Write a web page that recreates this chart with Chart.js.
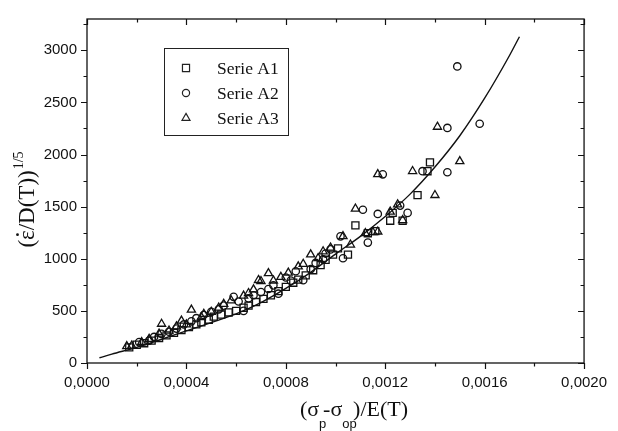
<!DOCTYPE html>
<html>
<head>
<meta charset="utf-8">
<script src="https://cdn.jsdelivr.net/npm/chart.js@4/dist/chart.umd.min.js"></script>
<style>
  html, body { margin: 0; padding: 0; background: #fff; }
  canvas { display: block; }
</style>
</head>
<body>
<canvas id="chart" width="618" height="431"></canvas>
<script>
// tick positions
const xTicks = [0, 0.0004, 0.0008, 0.0012, 0.0016, 0.0020];
const xMinorTicks = [0.0002, 0.0006, 0.0010, 0.0014, 0.0018];
const yTicks = [0, 500, 1000, 1500, 2000, 2500, 3000];
const yMinorTicks = [250, 750, 1250, 1750, 2250, 2750, 3250];

// measured points, [x, y]
const serieA1 = [
  [0.00017, 150], [0.00020, 175], [0.00023, 190], [0.00026, 215], [0.00029, 240],
  [0.00032, 265], [0.00035, 290], [0.00038, 315], [0.00041, 345], [0.00044, 370],
  [0.00046, 390], [0.00049, 415], [0.00051, 445], [0.00054, 465], [0.00057, 485],
  [0.00060, 500], [0.00063, 530], [0.00065, 550], [0.00068, 585], [0.00071, 615],
  [0.00074, 650], [0.00077, 690], [0.00080, 730], [0.00083, 770], [0.00085, 800],
  [0.00088, 840], [0.00091, 890], [0.00094, 940], [0.00096, 990], [0.00099, 1040],
  [0.00101, 1100], [0.00105, 1040], [0.00108, 1320], [0.00113, 1245], [0.00116, 1265],
  [0.00122, 1365], [0.00123, 1440], [0.00127, 1365], [0.00133, 1610], [0.00137, 1840],
  [0.00138, 1925]
];
const serieA2 = [
  [0.00021, 200], [0.00025, 215], [0.00027, 250], [0.00030, 280], [0.00033, 300],
  [0.00036, 330], [0.00039, 370], [0.00042, 400], [0.00044, 430], [0.00047, 460],
  [0.00050, 490], [0.00053, 515], [0.00055, 550], [0.00059, 635], [0.00061, 590],
  [0.00063, 500], [0.00065, 620], [0.00067, 650], [0.00070, 680], [0.00073, 710],
  [0.00075, 745], [0.00077, 665], [0.00080, 820], [0.00082, 790], [0.00084, 880],
  [0.00087, 795], [0.00090, 900], [0.00092, 960], [0.00095, 995], [0.00096, 1050],
  [0.00098, 1090], [0.00102, 1215], [0.00103, 1005], [0.00111, 1470], [0.00113, 1155],
  [0.00117, 1430], [0.00119, 1810], [0.00126, 1510], [0.00129, 1440], [0.00135, 1840],
  [0.00145, 1830], [0.00145, 2255], [0.00149, 2845], [0.00158, 2295]
];
const serieA3 = [
  [0.00016, 160], [0.00018, 165], [0.00022, 200], [0.00025, 230], [0.00029, 280],
  [0.00030, 375], [0.00033, 310], [0.00036, 350], [0.00038, 405], [0.00040, 370],
  [0.00042, 510], [0.00046, 440], [0.00047, 470], [0.00050, 490], [0.00053, 530],
  [0.00055, 565], [0.00058, 600], [0.00063, 645], [0.00065, 670], [0.00067, 705],
  [0.00069, 795], [0.00070, 785], [0.00073, 860], [0.00075, 790], [0.00078, 825],
  [0.00081, 865], [0.00085, 925], [0.00087, 950], [0.00090, 1040], [0.00093, 1005],
  [0.00095, 1070], [0.00098, 1105], [0.00103, 1215], [0.00106, 1135], [0.00108, 1480],
  [0.00112, 1245], [0.00115, 1255], [0.00117, 1260], [0.00117, 1810], [0.00122, 1450],
  [0.00125, 1520], [0.00127, 1370], [0.00131, 1840], [0.00140, 1610], [0.00141, 2265],
  [0.00150, 1935]
];

// fitted curve
const curveX = [0.00005, 0.0001, 0.0002, 0.0003, 0.0004, 0.0005, 0.0006, 0.0007, 0.0008, 0.0009,
  0.0010, 0.0011, 0.0012, 0.0013, 0.0014, 0.0015, 0.0016, 0.0017, 0.00174];
const curveY = [50, 85, 150, 228, 308, 388, 472, 580, 715, 870,
  1045, 1215, 1405, 1620, 1880, 2180, 2540, 2950, 3130];

const legendItems = [
  { label: 'Serie A1', style: 'rect', radius: 5 },
  { label: 'Serie A2', style: 'circle', radius: 3.6 },
  { label: 'Serie A3', style: 'triangle', radius: 4.6 }
];

const toPoints = (arr) => arr.map(([x, y]) => ({ x, y }));
const fmtComma = (v) => v.toFixed(4).replace('.', ',');
const serif = '"Liberation Serif", "Times New Roman", serif';
const sans = '"Liberation Sans", Arial, sans-serif';

function drawSymbol(ctx, style, r, x, y) {
  ctx.beginPath();
  if (style === 'rect') {
    const s = r * Math.SQRT1_2;
    ctx.rect(x - s, y - s, 2 * s, 2 * s);
  } else if (style === 'circle') {
    ctx.arc(x, y, r, 0, Math.PI * 2);
  } else {
    const w = r * Math.sqrt(3) / 2;
    ctx.moveTo(x, y - r);
    ctx.lineTo(x + w, y + r / 2);
    ctx.lineTo(x - w, y + r / 2);
    ctx.closePath();
  }
  ctx.stroke();
}

const framePlugin = {
  id: 'frame',
  afterDraw(chart) {
    const { ctx, chartArea: a, scales: { x, y } } = chart;
    ctx.save();
    ctx.strokeStyle = '#111';
    ctx.lineWidth = 1.3;
    ctx.strokeRect(a.left, a.top, a.right - a.left, a.bottom - a.top);

    ctx.lineWidth = 1.2;
    ctx.beginPath();
    const xt = (v, len) => {
      const px = Math.round(x.getPixelForValue(v)) + 0.5;
      ctx.moveTo(px, a.bottom); ctx.lineTo(px, a.bottom + len);
      ctx.moveTo(px, a.top); ctx.lineTo(px, a.top + len);
    };
    const yt = (v, len) => {
      const py = Math.round(y.getPixelForValue(v)) + 0.5;
      if (py < a.top + 1) return;
      ctx.moveTo(a.left, py); ctx.lineTo(a.left - len, py);
      ctx.moveTo(a.right, py); ctx.lineTo(a.right - len, py);
    };
    xTicks.forEach((v) => xt(v, 6));
    xMinorTicks.forEach((v) => xt(v, 3.5));
    yTicks.forEach((v) => yt(v, 6));
    yMinorTicks.forEach((v) => yt(v, 3.5));
    ctx.stroke();

    // legend box
    ctx.lineWidth = 1;
    ctx.strokeStyle = '#222';
    ctx.strokeRect(164.5, 48.5, 124, 87);
    ctx.fillStyle = '#111';
    ctx.font = '17.5px ' + serif;
    ctx.textBaseline = 'middle';
    ctx.textAlign = 'left';
    legendItems.forEach((item, i) => {
      const cy = 68 + i * 25;
      ctx.lineWidth = 1.2;
      drawSymbol(ctx, item.style, item.radius, 186, cy);
      ctx.fillText(item.label, 217, cy + 1);
    });

    // y axis title (rotated)
    ctx.save();
    ctx.translate(27, 200);
    ctx.rotate(-Math.PI / 2);
    ctx.textBaseline = 'alphabetic';
    const big = '23px ' + serif;
    const sup = '14px ' + serif;
    const mainY = '(\u03B5/D(T))';
    ctx.font = big;
    const wMain = ctx.measureText(mainY).width;
    const wParen = ctx.measureText('(').width;
    const wEps = ctx.measureText('\u03B5').width;
    ctx.font = sup;
    const wSup = ctx.measureText('1/5').width;
    const start = -(wMain + wSup) / 2;
    ctx.font = big;
    ctx.fillText(mainY, start, 7);
    ctx.beginPath();
    ctx.arc(start + wParen + wEps / 2 + 0.5, -9.5, 1.4, 0, Math.PI * 2);
    ctx.fill();
    ctx.font = sup;
    ctx.fillText('1/5', start + wMain + 1, -4);
    ctx.restore();

    // x axis title with subscripts
    const parts = [
      { t: '(\u03C3', f: '22px ' + serif, dy: 0, adv: 1 },
      { t: 'p', f: '13px ' + sans, dy: 12, adv: 0.55 },
      { t: '-\u03C3', f: '22px ' + serif, dy: 0, adv: 1 },
      { t: 'op', f: '13px ' + sans, dy: 12, adv: 0.75 },
      { t: ')/E(T)', f: '22px ' + serif, dy: 0, adv: 1 }
    ];
    let total = 0;
    parts.forEach((p) => { ctx.font = p.f; p.w = ctx.measureText(p.t).width; total += p.w * p.adv; });
    let cx = 354 - total / 2;
    ctx.textBaseline = 'alphabetic';
    parts.forEach((p) => {
      ctx.font = p.f;
      ctx.fillText(p.t, cx, 416 + p.dy);
      cx += p.w * p.adv;
    });
    ctx.restore();
  }
};

const markerBase = {
  backgroundColor: 'rgba(255,255,255,0)',
  borderColor: '#111',
  borderWidth: 1.3,
  showLine: false
};

new Chart(document.getElementById('chart'), {
  type: 'scatter',
  data: {
    datasets: [
      {
        label: 'Fit',
        data: curveX.map((x, i) => ({ x, y: curveY[i] })),
        showLine: true,
        borderColor: '#111',
        borderWidth: 1.4,
        pointRadius: 0,
        cubicInterpolationMode: 'monotone',
        order: 0
      },
      { ...markerBase, label: 'Serie A1', data: toPoints(serieA1), pointStyle: 'rect', pointRadius: 5, order: 1 },
      { ...markerBase, label: 'Serie A2', data: toPoints(serieA2), pointStyle: 'circle', pointRadius: 3.7, order: 2 },
      { ...markerBase, label: 'Serie A3', data: toPoints(serieA3), pointStyle: 'triangle', pointRadius: 4.7, order: 3 }
    ]
  },
  options: {
    responsive: false,
    animation: false,
    devicePixelRatio: 1,
    layout: { padding: { top: 16, right: 26, left: 0, bottom: 0 } },
    plugins: { legend: { display: false }, tooltip: { enabled: false } },
    scales: {
      x: {
        type: 'linear',
        min: 0,
        max: 0.002,
        afterBuildTicks: (scale) => { scale.ticks = xTicks.map((v) => ({ value: v })); },
        afterFit: (scale) => { scale.height = 68; },
        grid: { display: false, drawTicks: false },
        border: { display: false },
        ticks: {
          padding: 11,
          color: '#111',
          font: { family: sans, size: 15 },
          maxRotation: 0,
          callback: (v) => fmtComma(v)
        }
      },
      y: {
        type: 'linear',
        min: 0,
        max: 3300,
        afterBuildTicks: (scale) => { scale.ticks = yTicks.map((v) => ({ value: v })); },
        afterFit: (scale) => { scale.width = 87; },
        grid: { display: false, drawTicks: false },
        border: { display: false },
        ticks: {
          padding: 10,
          color: '#111',
          font: { family: sans, size: 15 },
          callback: (v) => String(v)
        }
      }
    }
  },
  plugins: [framePlugin]
});
</script>
</body>
</html>
